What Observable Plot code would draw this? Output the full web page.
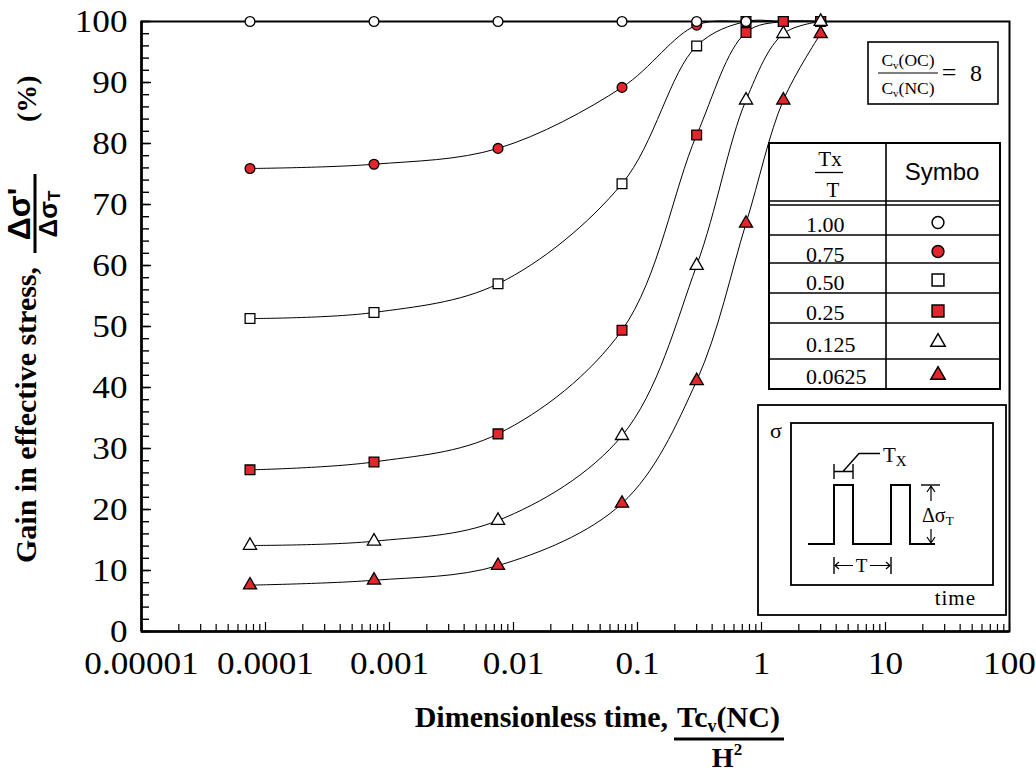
<!DOCTYPE html>
<html>
<head>
<meta charset="utf-8">
<script src="https://cdn.jsdelivr.net/npm/d3@7"></script>
<script src="https://cdn.jsdelivr.net/npm/@observablehq/plot@0.6"></script>
<style>
  html, body { margin: 0; padding: 0; background: #fff; }
  #chart { width: 1036px; height: 774px; }
  #chart svg text { font-family: "Liberation Serif", "Times New Roman", serif !important; font-variant: normal !important; }
  #chart svg text.sans { font-family: "Liberation Sans", Arial, sans-serif !important; }
</style>
</head>
<body>
<div id="chart"></div>
<script>
// ---------- data ----------
const tcv = [0.000075, 0.00075, 0.0075, 0.075, 0.3, 0.75, 1.5, 3];
const seriesKeys = ["1.00", "0.75", "0.50", "0.25", "0.125", "0.0625"];
const gain_100   = [100, 100, 100, 100, 100, 100, 100, 100];
const gain_075   = [75.9, 76.6, 79.2, 89.2, 99.4, 100, 100, 100];
const gain_050   = [51.3, 52.3, 57.0, 73.4, 96.0, 100, 100, 100];
const gain_025   = [26.5, 27.8, 32.4, 49.4, 81.4, 98.2, 100, 100];
const gain_0125  = [14.1, 14.8, 18.2, 32.1, 60.0, 87.1, 98.0, 100];
const gain_00625 = [7.6, 8.4, 10.8, 21.0, 41.1, 66.9, 87.1, 98.0];
const xTickValues = [1e-5, 1e-4, 1e-3, 1e-2, 1e-1, 1, 10, 100];
const xTickLabels = ["0.00001", "0.0001", "0.001", "0.01", "0.1", "1", "10", "100"];
const yTickValues = [0, 10, 20, 30, 40, 50, 60, 70, 80, 90, 100];
const yMinorValues = d3.range(0, 101, 2);
const xMinorValues = xTickValues.slice(0, -1).flatMap(d => [2,3,4,5,6,7,8,9].map(k => k * d));

// ---------- style ----------
const RED = "#e3262b";
const SERIF = "'Liberation Serif', 'Times New Roman', serif";
const SANS = "'Liberation Sans', Arial, sans-serif";
const seriesStyle = {
  "1.00":   {symbol: "circle",   fill: "white", r: 4.9},
  "0.75":   {symbol: "circle",   fill: RED,     r: 4.9},
  "0.50":   {symbol: "square",   fill: "white", r: 5.5},
  "0.25":   {symbol: "square",   fill: RED,     r: 5.5},
  "0.125":  {symbol: "triangle", fill: "white", r: 4.9},
  "0.0625": {symbol: "triangle", fill: RED,     r: 4.9}
};
const seriesValues = {"1.00": gain_100, "0.75": gain_075, "0.50": gain_050,
  "0.25": gain_025, "0.125": gain_0125, "0.0625": gain_00625};
const drawOrder = ["0.75", "0.50", "1.00", "0.25", "0.0625", "0.125"];

const rows = seriesKeys.flatMap(k => seriesValues[k].map((v, i) => ({series: k, t: tcv[i], g: v})));

const W = 1036, H = 774;
const M = {left: 141, right: 27, top: 21, bottom: 143};
const plotW = W - M.left - M.right, plotH = H - M.top - M.bottom;
const pxPerDecade = plotW / 7;
const pxPerUnit = plotH / 100;
const xInward = px => 1e-5 * Math.pow(10, px / pxPerDecade);
const yInward = px => px / pxPerUnit;

const plot = Plot.plot({
  width: W, height: H,
  marginLeft: M.left, marginRight: M.right, marginTop: M.top, marginBottom: M.bottom,
  style: {fontFamily: SERIF, fontSize: "32px", background: "white", color: "black", overflow: "visible"},
  x: {type: "log", domain: [1e-5, 100]},
  y: {domain: [0, 100]},
  marks: [
    Plot.axisX(xTickValues, {tickSize: 0, tickPadding: 20, label: null, fontSize: 32, fontFamily: SERIF,
      tickFormat: d => xTickLabels[xTickValues.indexOf(d)]}),
    Plot.axisY(yTickValues, {tickSize: 0, tickPadding: 14, label: null, fontSize: 32, fontFamily: SERIF,
      tickFormat: d => String(d)}),
    // inward minor / major ticks
    Plot.ruleX(xMinorValues, {y1: 0, y2: yInward(7), stroke: "black", strokeWidth: 1.2}),
    Plot.ruleX(xTickValues, {y1: 0, y2: yInward(9), stroke: "black", strokeWidth: 1.2}),
    Plot.ruleY(yMinorValues, {x1: 1e-5, x2: xInward(8), stroke: "black", strokeWidth: 1.4}),
    Plot.ruleY(yTickValues, {x1: 1e-5, x2: xInward(10), stroke: "black", strokeWidth: 1.4}),
    Plot.frame({stroke: "black", strokeWidth: 2}),
    Plot.ruleY([0], {stroke: "black", strokeWidth: 2.6}),
    Plot.ruleX([1e-5], {stroke: "black", strokeWidth: 2.6}),
    // smoothed curves
    Plot.line(rows, {x: "t", y: "g", z: "series", curve: "catmull-rom", stroke: "black", strokeWidth: 1}),
    // markers
    ...drawOrder.map(k => Plot.dot(rows.filter(d => d.series === k), {
      x: "t", y: "g", symbol: seriesStyle[k].symbol, r: seriesStyle[k].r,
      fill: seriesStyle[k].fill, stroke: "black", strokeWidth: 1.3
    }))
  ]
});
document.getElementById("chart").appendChild(plot);

const svg = d3.select(plot);

// ---------- annotations ----------
// axis titles
const xt = svg.append("g").attr("font-family", SERIF).attr("font-weight", "bold").attr("font-size", 30).attr("text-anchor", "start");
xt.append("text").attr("x", 668).attr("y", 727).attr("text-anchor", "end").text("Dimensionless time,");
const tc = xt.append("text").attr("x", 677).attr("y", 727).attr("text-anchor", "start");
tc.append("tspan").text("Tc");
tc.append("tspan").attr("font-size", 18).attr("dy", 5).text("v");
tc.append("tspan").attr("dy", -5).text("(NC)");
xt.append("line").attr("x1", 674).attr("x2", 784).attr("y1", 739).attr("y2", 739).attr("stroke", "black").attr("stroke-width", 3);
const hh = xt.append("text").attr("x", 727).attr("y", 767).attr("text-anchor", "middle").attr("font-size", 28);
hh.append("tspan").text("H");
hh.append("tspan").attr("font-size", 17).attr("dy", -12).text("2");

const yt = svg.append("g").attr("transform", "rotate(-90)").attr("font-weight", "bold").attr("text-anchor", "start");
yt.append("text").attr("x", -563).attr("y", 36).attr("font-family", SERIF).attr("font-size", 30).attr("text-anchor", "start").text("Gain in effective stress,");
yt.append("text").attr("class", "sans").attr("x", -214).attr("y", 30).attr("text-anchor", "middle").attr("font-family", SANS).attr("font-size", 32).text("Δσ'");
yt.append("line").attr("x1", -253).attr("x2", -174).attr("y1", 35).attr("y2", 35).attr("stroke", "black").attr("stroke-width", 3);
const den = yt.append("text").attr("class", "sans").attr("x", -214).attr("y", 57).attr("text-anchor", "middle").attr("font-family", SANS).attr("font-size", 26);
den.append("tspan").text("Δσ");
den.append("tspan").attr("font-size", 17).attr("dy", 3).text("T");
yt.append("text").attr("x", -122).attr("y", 36).attr("font-family", SERIF).attr("font-size", 28).attr("text-anchor", "start").text("(%)");

// ratio box
const rb = svg.append("g").attr("font-family", SERIF).attr("fill", "black").attr("font-weight", "normal");
rb.append("rect").attr("x", 868).attr("y", 42).attr("width", 130).attr("height", 62)
  .attr("fill", "white").attr("stroke", "black").attr("stroke-width", 1.6);
function cvText(g, x, y, inner) {
  const t = g.append("text").attr("x", x).attr("y", y).attr("text-anchor", "middle").attr("font-size", 17.5);
  t.append("tspan").text("C");
  t.append("tspan").attr("font-size", 11).attr("dy", 3).text("v");
  t.append("tspan").attr("dy", -3).text(inner);
}
cvText(rb, 908, 66, "(OC)");
rb.append("line").attr("x1", 878).attr("x2", 938).attr("y1", 73).attr("y2", 73).attr("stroke", "black").attr("stroke-width", 1.2);
cvText(rb, 908, 94, "(NC)");
rb.append("text").attr("x", 949).attr("y", 81).attr("text-anchor", "middle").attr("font-size", 26).text("=");
rb.append("text").attr("x", 976).attr("y", 81).attr("text-anchor", "middle").attr("font-size", 24).text("8");

// legend table
const tb = svg.append("g").attr("font-family", SERIF).attr("fill", "black");
const tL = 769, tR = 1000, tT = 143, tB = 389, tMid = 886;
tb.append("rect").attr("x", tL).attr("y", tT).attr("width", tR - tL).attr("height", tB - tT)
  .attr("fill", "white").attr("stroke", "black").attr("stroke-width", 2);
tb.append("line").attr("x1", tMid).attr("x2", tMid).attr("y1", tT).attr("y2", tB).attr("stroke", "black").attr("stroke-width", 1.6);
[201, 205].forEach(y => tb.append("line").attr("x1", tL).attr("x2", tR).attr("y1", y).attr("y2", y).attr("stroke", "black").attr("stroke-width", 1.4));
const rowLines = [235, 263, 293, 323, 359];
rowLines.forEach(y => tb.append("line").attr("x1", tL).attr("x2", tR).attr("y1", y).attr("y2", y).attr("stroke", "black").attr("stroke-width", 1.6));
tb.append("text").attr("x", 830).attr("y", 166).attr("text-anchor", "middle").attr("font-size", 21).text("Tx");
tb.append("line").attr("x1", 815).attr("x2", 843).attr("y1", 172.5).attr("y2", 172.5).attr("stroke", "black").attr("stroke-width", 1.3);
tb.append("text").attr("x", 833).attr("y", 197).attr("text-anchor", "middle").attr("font-size", 21).text("T");
tb.append("text").attr("class", "sans").attr("x", 942).attr("y", 180).attr("text-anchor", "middle").attr("font-family", SANS).attr("font-size", 24).text("Symbo");
const rowBase = [232, 262, 290, 320, 352, 384];
const rowSym = [222.5, 251.5, 280, 311, 342, 375];
const d3sym = {circle: d3.symbolCircle, square: d3.symbolSquare, triangle: d3.symbolTriangle};
seriesKeys.forEach((k, i) => {
  tb.append("text").attr("x", 806).attr("y", rowBase[i]).attr("text-anchor", "start").attr("font-size", 22).text(k);
  const st = seriesStyle[k];
  const size = st.symbol === "circle" ? 110 : st.symbol === "square" ? 140 : 90;
  tb.append("path").attr("d", d3.symbol(d3sym[st.symbol], size)())
    .attr("transform", `translate(938,${rowSym[i]})`)
    .attr("fill", st.fill).attr("stroke", "black").attr("stroke-width", 1.5);
});

// inset diagram
const ins = svg.append("g").attr("font-family", SERIF).attr("fill", "black").attr("text-anchor", "start");
ins.append("rect").attr("x", 758).attr("y", 405).attr("width", 248).attr("height", 210)
  .attr("fill", "white").attr("stroke", "black").attr("stroke-width", 1.8);
ins.append("rect").attr("x", 791).attr("y", 423).attr("width", 202).attr("height", 162)
  .attr("fill", "none").attr("stroke", "black").attr("stroke-width", 1.8);
ins.append("text").attr("x", 776).attr("y", 438).attr("text-anchor", "middle").attr("font-size", 22).text("σ");
ins.append("text").attr("x", 976).attr("y", 605).attr("text-anchor", "end").attr("font-size", 21).attr("letter-spacing", 1).text("time");
const ln = (d, w = 1.5) => ins.append("path").attr("d", d).attr("fill", "none").attr("stroke", "black").attr("stroke-width", w);
ln("M808,544H834V485H853V544H891V485H910V544H935", 2);
// Tx bracket
ln("M834,464V479M853,464V479M834,471.5H853M843,471.5L859,453.5H880", 1.4);
const txT = ins.append("text").attr("x", 883).attr("y", 462).attr("text-anchor", "start").attr("font-size", 21);
txT.append("tspan").text("T");
txT.append("tspan").attr("font-size", 15).attr("dy", 4).text("X");
// delta sigma T
ln("M921,485H940", 1.4);
ln("M931,486V501M927,492L931,486L935,492", 1.2);
ln("M931,529V543M927,537L931,543L935,537", 1.2);
const dsT = ins.append("text").attr("x", 922).attr("y", 522).attr("text-anchor", "start").attr("font-size", 20);
dsT.append("tspan").text("Δσ");
dsT.append("tspan").attr("font-size", 13).attr("dy", 3).text("T");
// T period
ln("M834,557V574M891,557V574", 1.4);
ln("M835,565.5H853M839,562L835,565.5L839,569", 1.2);
ln("M870,565.5H890M886,562L890,565.5L886,569", 1.2);
ins.append("text").attr("x", 861.5).attr("y", 572).attr("text-anchor", "middle").attr("font-size", 19).text("T");

// tick labels: widen slightly, as in the original
svg.selectAll("g[aria-label='x-axis tick label'] text, g[aria-label='y-axis tick label'] text").each(function () {
  const L = this.getComputedTextLength();
  this.setAttribute("textLength", (L * 1.1).toFixed(1));
  this.setAttribute("lengthAdjust", "spacingAndGlyphs");
});
</script>
</body>
</html>
